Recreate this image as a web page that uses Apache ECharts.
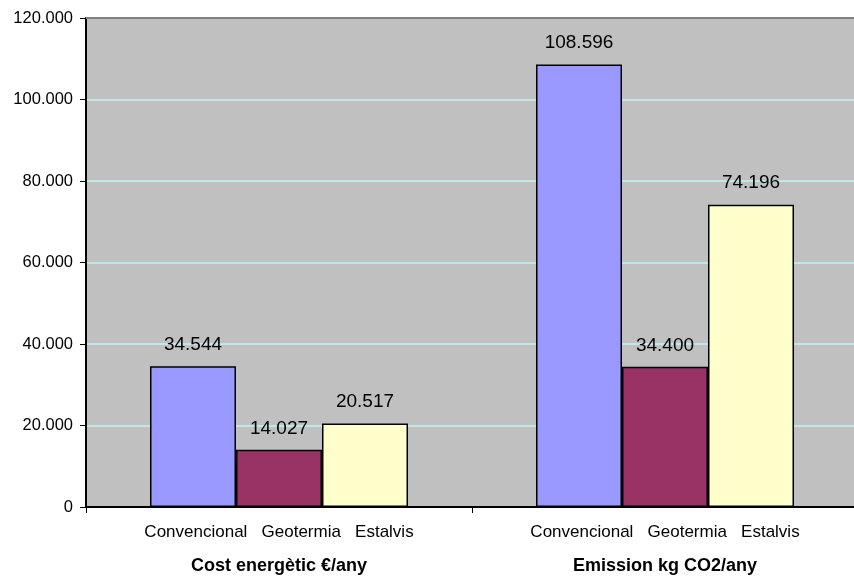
<!DOCTYPE html>
<html>
<head>
<meta charset="utf-8">
<script src="https://cdn.jsdelivr.net/npm/echarts@6/dist/echarts.min.js"></script>
<style>
  html, body { margin: 0; padding: 0; background: #fff; }
  #chart { width: 854px; height: 576px; }
</style>
</head>
<body>
<div id="chart"></div>
<script>
const categories = ["Cost energètic €/any", "Emission kg CO2/any"];
const subLabels = ["Convencional", "Geotermia", "Estalvis"];
const convencional = [34544, 108596];
const geotermia = [14027, 34400];
const estalvis = [20517, 74196];

const colors = ["#9999ff", "#993366", "#ffffcc"];
const font = "Liberation Sans, Arial, sans-serif";

// thousands with a dot, like the original
const fmt = (v) => String(Math.round(v)).replace(/\B(?=(\d{3})+(?!\d))/g, ".");

const chart = echarts.init(document.getElementById("chart"));

const mkSeries = (name, data, i) => ({
  name: name,
  type: "bar",
  data: data,
  barWidth: 86,
  barGap: "0%",
  itemStyle: { color: colors[i], borderColor: "#000", borderWidth: 1.5 },
  label: {
    show: true,
    position: "top",
    distance: 12,
    color: "#000",
    fontFamily: font,
    fontSize: 19,
    formatter: (p) => fmt(p.value),
  },
});

const option = {
  animation: false,
  grid: { left: 86, right: -4, top: 18, bottom: 69, containLabel: false,
    outerBoundsMode: "none",
    show: true, backgroundColor: "#c0c0c0", borderWidth: 0 },
  xAxis: {
    type: "category",
    data: categories,
    axisLine: { lineStyle: { color: "#000", width: 2 } },
    axisTick: { show: true, length: 6, lineStyle: { color: "#000" } },
    axisLabel: {
      interval: 0,
      margin: 8,
      formatter: (v) => "{sub|" + subLabels.join("   ") + "}\n{main|" + v + "}",
      rich: {
        sub: { fontFamily: font, fontSize: 17, color: "#000", lineHeight: 34 },
        main: { fontFamily: font, fontSize: 18, fontWeight: "bold", color: "#000", lineHeight: 34 },
      },
    },
  },
  yAxis: {
    type: "value",
    min: 0,
    max: 120000,
    interval: 20000,
    axisLine: { show: true, lineStyle: { color: "#000", width: 2 } },
    axisTick: { show: true, length: 6, lineStyle: { color: "#000" } },
    splitLine: { lineStyle: { color: "#bff5f5", width: 1.5 } },
    axisLabel: {
      margin: 13,
      color: "#000",
      fontFamily: font,
      fontSize: 16.5,
      formatter: fmt,
    },
  },
  series: [
    mkSeries(subLabels[0], convencional, 0),
    mkSeries(subLabels[1], geotermia, 1),
    mkSeries(subLabels[2], estalvis, 2),
    // thin gray top border of the plot area
    {
      type: "line",
      markLine: {
        silent: true,
        symbol: "none",
        label: { show: false },
        lineStyle: { color: "#808080", type: "solid", width: 2 },
        data: [{ yAxis: 120000 }],
      },
      data: [],
    },
  ],
};

chart.setOption(option);
</script>
</body>
</html>
